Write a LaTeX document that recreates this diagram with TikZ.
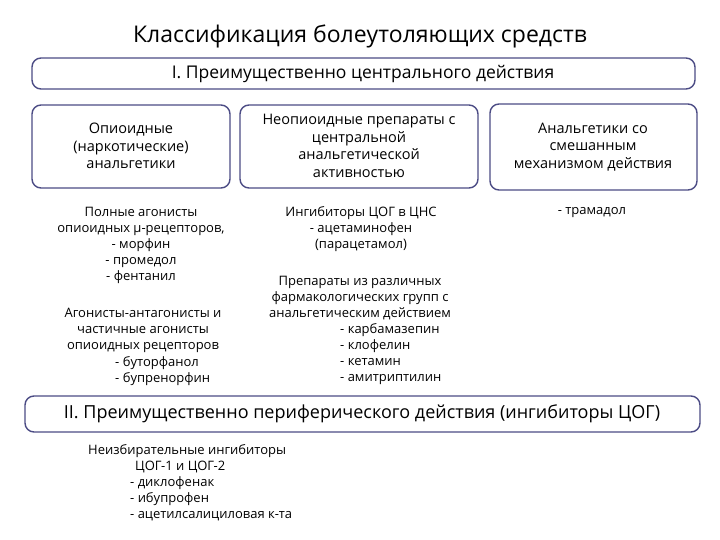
\documentclass[tikz,border=0pt]{standalone}
\usepackage{fontspec}
\setmainfont{Open Sans}
\begin{document}
\begin{tikzpicture}[x=1pt,y=-1pt,
  bx/.style={draw=black!45!blue!40!gray,line width=1.4pt,rounded corners=9pt,fill=white},
  tx/.style={align=center,font=\fontsize{13}{16}\selectfont,inner sep=0pt},
  tl/.style={align=left,anchor=west,font=\fontsize{13}{16}\selectfont,inner sep=0pt},
  hd/.style={align=center,font=\fontsize{14.5}{17.5}\selectfont}]
\useasboundingbox (0,0) rectangle (720,540);
\fill[white] (0,0) rectangle (720,540);
\node[font=\fontsize{23}{26}\selectfont] (title) at (360,36) {Классификация болеутоляющих средств};
\draw[bx] (32,58) rectangle (695,89);
\node[font=\fontsize{17.5}{20}\selectfont] (h1) at (363,74) {I. Преимущественно центрального действия};
\draw[bx] (32,105) rectangle (230,188);
\node[hd] (b1) at (131,146) {Опиоидные\\(наркотические)\\анальгетики};
\draw[bx] (240,105) rectangle (478,188);
\node[hd] (b2) at (359,146) {Неопиоидные препараты с\\центральной\\анальгетической\\активностью};
\draw[bx] (490,104) rectangle (697,190);
\node[hd] (b3) at (593,147) {Анальгетики со\\смешанным\\механизмом действия};
\node[tx] (t1) at (141,245) {Полные агонисты\\опиоидных µ-рецепторов,\\- морфин\\- промедол\\- фентанил};
\node[tx] (t2) at (143,330) {Агонисты-антагонисты и\\частичные агонисты\\опиоидных рецепторов};
\node[tl] (t2a) at (115,371) {- буторфанол\\- бупренорфин};
\node[tx] (t3) at (361,229) {Ингибиторы ЦОГ в ЦНС\\- ацетаминофен\\(парацетамол)};
\node[tx] (t4) at (360,298) {Препараты из различных\\фармакологических групп с\\анальгетическим действием};
\node[tl] (t4a) at (340,354) {- карбамазепин\\- клофелин\\- кетамин\\- амитриптилин};
\node[tx] (t5) at (592,213) {- трамадол};
\draw[bx] (25,396) rectangle (700,432);
\node[font=\fontsize{18}{21}\selectfont] (h2) at (362,414) {II. Преимущественно периферического действия (ингибиторы ЦОГ)};
\node[tl,anchor=north west] (t6) at (88,444) {Неизбирательные ингибиторы\\\hspace*{47pt}ЦОГ-1 и ЦОГ-2\\\hspace*{42pt}- диклофенак\\\hspace*{42pt}- ибупрофен\\\hspace*{42pt}- ацетилсалициловая к-та};
\end{tikzpicture}
\end{document}
